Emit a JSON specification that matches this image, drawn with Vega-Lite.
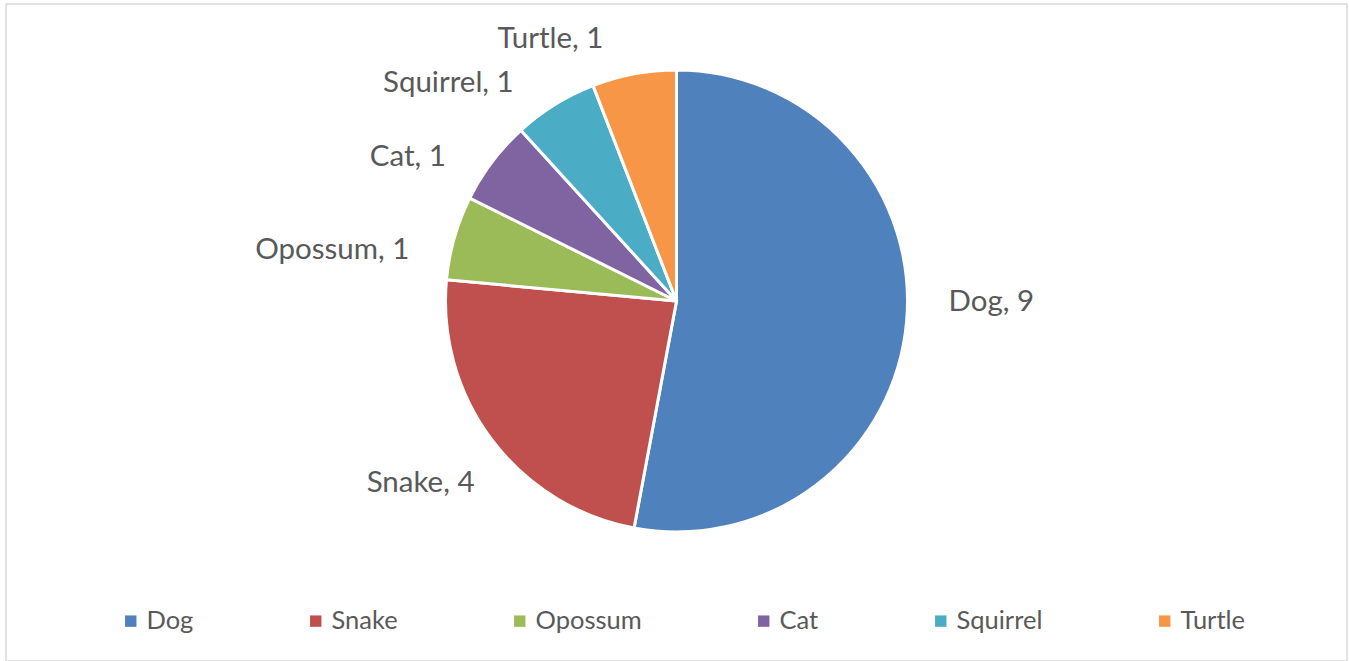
{
  "$schema": "https://vega.github.io/schema/vega-lite/v6.json",
  "width": 1341,
  "height": 657,
  "autosize": {"type": "none"},
  "padding": {"left": 6, "top": 4, "right": 2, "bottom": 0},
  "background": "white",
  "config": {"view": {"stroke": "#d9d9d9", "strokeWidth": 1.5}},
  "data": {
    "values": [
      {"animal": "Dog", "value": 9},
      {"animal": "Snake", "value": 4},
      {"animal": "Opossum", "value": 1},
      {"animal": "Cat", "value": 1},
      {"animal": "Squirrel", "value": 1},
      {"animal": "Turtle", "value": 1}
    ]
  },
  "transform": [
    {"window": [{"op": "row_number", "as": "idx"}]},
    {"joinaggregate": [{"op": "sum", "field": "value", "as": "total"}]},
    {"calculate": "datum.animal + ', ' + datum.value", "as": "label"}
  ],
  "encoding": {
    "order": {"field": "idx", "type": "quantitative"},
    "y": {"value": 297}
  },
  "layer": [
    {
      "mark": {"type": "arc", "outerRadius": 231, "stroke": "white", "strokeWidth": 3},
      "encoding": {
        "theta": {"field": "value", "type": "quantitative", "stack": true},
        "color": {
          "field": "animal",
          "type": "nominal",
          "scale": {
            "domain": ["Dog", "Snake", "Opossum", "Cat", "Squirrel", "Turtle"],
            "range": ["#4F81BD", "#C0504D", "#9BBB59", "#8064A2", "#4BACC6", "#F79646"]
          },
          "legend": {
            "orient": "none",
            "legendX": 112,
            "legendY": 604,
            "direction": "horizontal",
            "title": null,
            "symbolType": "square",
            "symbolSize": 130,
            "symbolStrokeWidth": 0,
            "labelFont": "Lato",
            "labelFontSize": 25.5,
            "labelColor": "#595959",
            "labelOffset": 3,
            "columnPadding": 109,
            "padding": 0
          }
        }
      }
    },
    {
      "mark": {
        "type": "text",
        "radius": 272,
        "font": "Lato",
        "fontSize": 29.5,
        "fill": "#595959",
        "baseline": "middle",
        "align": {"expr": "(datum.value_start + datum.value_end) / 2 < datum.total / 2 ? 'left' : 'right'"}
      },
      "encoding": {
        "theta": {"field": "value", "type": "quantitative", "stack": true, "scale": {"range": [-0.087, 6.196]}},
        "text": {"field": "label", "type": "nominal"},
        "detail": {"field": "animal", "type": "nominal"}
      }
    }
  ],
  "resolve": {"scale": {"theta": "independent"}}
}
